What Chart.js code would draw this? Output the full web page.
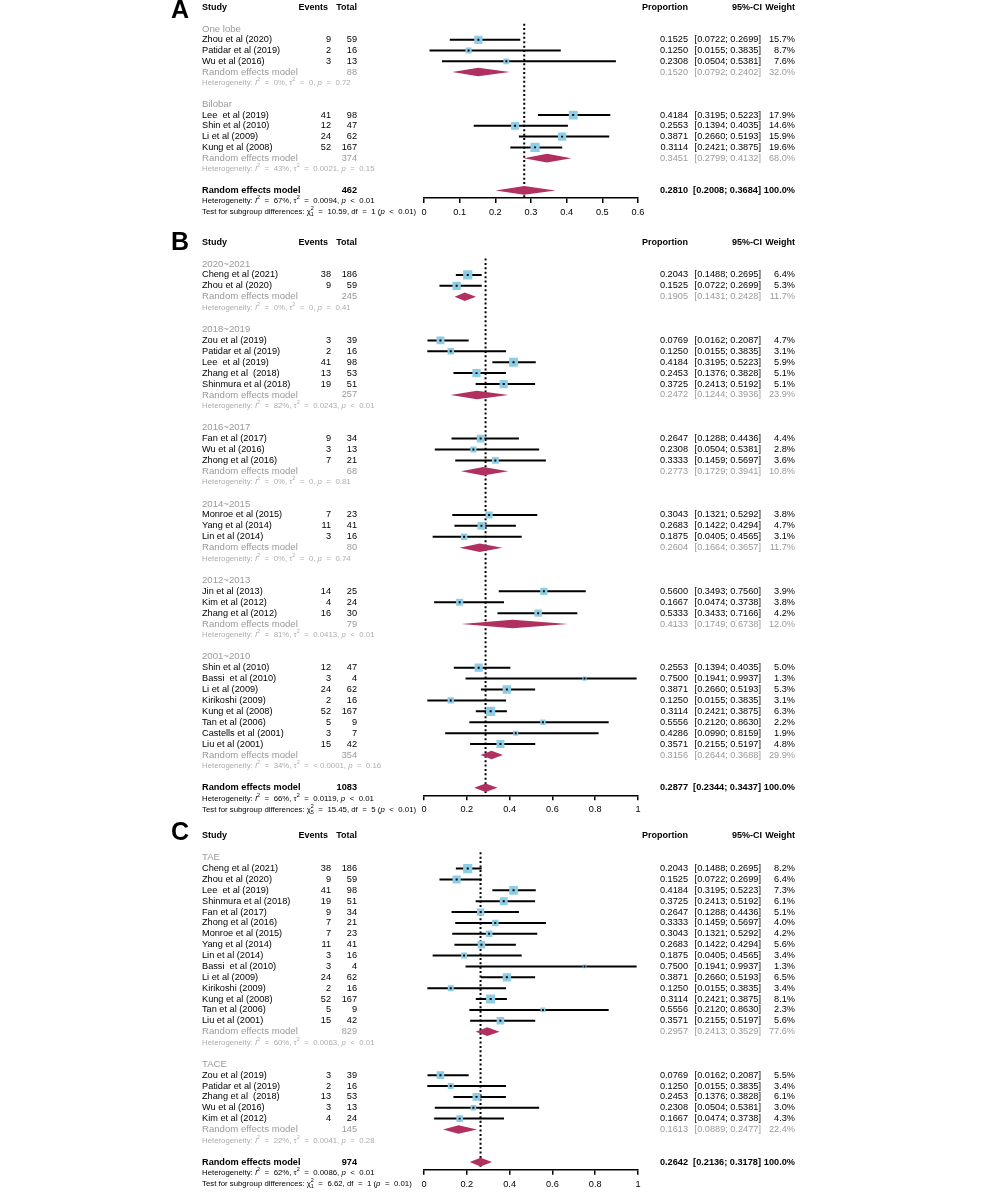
<!DOCTYPE html>
<html>
<head>
<meta charset="utf-8">
<script src="https://cdn.jsdelivr.net/npm/chart.js@4.4.0/dist/chart.umd.min.js"></script>
<style>
  html, body { margin: 0; padding: 0; background: #fff; }
  #wrap { position: relative; width: 1000px; height: 1195px; overflow: hidden; }
  canvas { position: absolute; left: 0; }
</style>
</head>
<body>
<div id="wrap">
  <canvas id="chartA"></canvas>
  <canvas id="chartB"></canvas>
  <canvas id="chartC"></canvas>
</div>
<script>
// ---- Panel A: one lobe vs bilobar ----
const aGroups = ['One lobe', 'Bilobar'];
const aGroupSize = [3, 4];
const aStudies = ['Zhou et al (2020)', 'Patidar et al (2019)', 'Wu et al (2016)',
  'Lee  et al (2019)', 'Shin et al (2010)', 'Li et al (2009)', 'Kung et al (2008)'];
const aEvents = [9, 2, 3, 41, 12, 24, 52];
const aTotals = [59, 16, 13, 98, 47, 62, 167];
const aProp = [0.1525, 0.1250, 0.2308, 0.4184, 0.2553, 0.3871, 0.3114];
const aLower = [0.0722, 0.0155, 0.0504, 0.3195, 0.1394, 0.2660, 0.2421];
const aUpper = [0.2699, 0.3835, 0.5381, 0.5223, 0.4035, 0.5193, 0.3875];
const aWeight = [15.7, 8.7, 7.6, 17.9, 14.6, 15.9, 19.6];
const aSubTotal = [88, 374];
const aSubProp = [0.1520, 0.3451];
const aSubLower = [0.0792, 0.2799];
const aSubUpper = [0.2402, 0.4132];
const aSubWeight = [32.0, 68.0];
const aSubI2 = [0, 43];
const aSubTau2 = ['0', '0.0021'];
const aSubP = ['= 0.72', '= 0.15'];
const aOverall = [0.2810, 0.2008, 0.3684];
const aOverallN = 462;
const aOverallHet = [67, '0.0094', '< 0.01'];
const aTest = ['10.59', 1, '< 0.01'];

// ---- Panel B: publication period ----
const bGroups = ['2020~2021', '2018~2019', '2016~2017', '2014~2015', '2012~2013', '2001~2010'];
const bGroupSize = [2, 5, 3, 3, 3, 8];
const bStudies = ['Cheng et al (2021)', 'Zhou et al (2020)',
  'Zou et al (2019)', 'Patidar et al (2019)', 'Lee  et al (2019)', 'Zhang et al  (2018)', 'Shinmura et al (2018)',
  'Fan et al (2017)', 'Wu et al (2016)', 'Zhong et al (2016)',
  'Monroe et al (2015)', 'Yang et al (2014)', 'Lin et al (2014)',
  'Jin et al (2013)', 'Kim et al (2012)', 'Zhang et al (2012)',
  'Shin et al (2010)', 'Bassi  et al (2010)', 'Li et al (2009)', 'Kirikoshi (2009)', 'Kung et al (2008)',
  'Tan et al (2006)', 'Castells et al (2001)', 'Liu et al (2001)'];
const bEvents = [38, 9, 3, 2, 41, 13, 19, 9, 3, 7, 7, 11, 3, 14, 4, 16, 12, 3, 24, 2, 52, 5, 3, 15];
const bTotals = [186, 59, 39, 16, 98, 53, 51, 34, 13, 21, 23, 41, 16, 25, 24, 30, 47, 4, 62, 16, 167, 9, 7, 42];
const bProp = [0.2043, 0.1525, 0.0769, 0.1250, 0.4184, 0.2453, 0.3725, 0.2647, 0.2308, 0.3333,
  0.3043, 0.2683, 0.1875, 0.5600, 0.1667, 0.5333, 0.2553, 0.7500, 0.3871, 0.1250, 0.3114, 0.5556, 0.4286, 0.3571];
const bLower = [0.1488, 0.0722, 0.0162, 0.0155, 0.3195, 0.1376, 0.2413, 0.1288, 0.0504, 0.1459,
  0.1321, 0.1422, 0.0405, 0.3493, 0.0474, 0.3433, 0.1394, 0.1941, 0.2660, 0.0155, 0.2421, 0.2120, 0.0990, 0.2155];
const bUpper = [0.2695, 0.2699, 0.2087, 0.3835, 0.5223, 0.3828, 0.5192, 0.4436, 0.5381, 0.5697,
  0.5292, 0.4294, 0.4565, 0.7560, 0.3738, 0.7166, 0.4035, 0.9937, 0.5193, 0.3835, 0.3875, 0.8630, 0.8159, 0.5197];
const bWeight = [6.4, 5.3, 4.7, 3.1, 5.9, 5.1, 5.1, 4.4, 2.8, 3.6, 3.8, 4.7, 3.1, 3.9, 3.8, 4.2,
  5.0, 1.3, 5.3, 3.1, 6.3, 2.2, 1.9, 4.8];
const bSubTotal = [245, 257, 68, 80, 79, 354];
const bSubProp = [0.1905, 0.2472, 0.2773, 0.2604, 0.4133, 0.3156];
const bSubLower = [0.1431, 0.1244, 0.1729, 0.1664, 0.1749, 0.2644];
const bSubUpper = [0.2428, 0.3936, 0.3941, 0.3657, 0.6738, 0.3688];
const bSubWeight = [11.7, 23.9, 10.8, 11.7, 12.0, 29.9];
const bSubI2 = [0, 82, 0, 0, 81, 34];
const bSubTau2 = ['0', '0.0243', '0', '0', '0.0413', '< 0.0001'];
const bSubP = ['= 0.41', '< 0.01', '= 0.81', '= 0.74', '< 0.01', '= 0.16'];
const bOverall = [0.2877, 0.2344, 0.3437];
const bOverallN = 1083;
const bOverallHet = [66, '0.0119', '< 0.01'];
const bTest = ['15.45', 5, '< 0.01'];

// ---- Panel C: TAE vs TACE ----
const cGroups = ['TAE', 'TACE'];
const cGroupSize = [15, 5];
const cStudies = ['Cheng et al (2021)', 'Zhou et al (2020)', 'Lee  et al (2019)', 'Shinmura et al (2018)',
  'Fan et al (2017)', 'Zhong et al (2016)', 'Monroe et al (2015)', 'Yang et al (2014)', 'Lin et al (2014)',
  'Bassi  et al (2010)', 'Li et al (2009)', 'Kirikoshi (2009)', 'Kung et al (2008)', 'Tan et al (2006)',
  'Liu et al (2001)',
  'Zou et al (2019)', 'Patidar et al (2019)', 'Zhang et al  (2018)', 'Wu et al (2016)', 'Kim et al (2012)'];
const cEvents = [38, 9, 41, 19, 9, 7, 7, 11, 3, 3, 24, 2, 52, 5, 15, 3, 2, 13, 3, 4];
const cTotals = [186, 59, 98, 51, 34, 21, 23, 41, 16, 4, 62, 16, 167, 9, 42, 39, 16, 53, 13, 24];
const cProp = [0.2043, 0.1525, 0.4184, 0.3725, 0.2647, 0.3333, 0.3043, 0.2683, 0.1875, 0.7500,
  0.3871, 0.1250, 0.3114, 0.5556, 0.3571, 0.0769, 0.1250, 0.2453, 0.2308, 0.1667];
const cLower = [0.1488, 0.0722, 0.3195, 0.2413, 0.1288, 0.1459, 0.1321, 0.1422, 0.0405, 0.1941,
  0.2660, 0.0155, 0.2421, 0.2120, 0.2155, 0.0162, 0.0155, 0.1376, 0.0504, 0.0474];
const cUpper = [0.2695, 0.2699, 0.5223, 0.5192, 0.4436, 0.5697, 0.5292, 0.4294, 0.4565, 0.9937,
  0.5193, 0.3835, 0.3875, 0.8630, 0.5197, 0.2087, 0.3835, 0.3828, 0.5381, 0.3738];
const cWeight = [8.2, 6.4, 7.3, 6.1, 5.1, 4.0, 4.2, 5.6, 3.4, 1.3, 6.5, 3.4, 8.1, 2.3, 5.6,
  5.5, 3.4, 6.1, 3.0, 4.3];
const cSubTotal = [829, 145];
const cSubProp = [0.2957, 0.1613];
const cSubLower = [0.2413, 0.0889];
const cSubUpper = [0.3529, 0.2477];
const cSubWeight = [77.6, 22.4];
const cSubI2 = [60, 22];
const cSubTau2 = ['0.0063', '0.0041'];
const cSubP = ['< 0.01', '= 0.28'];
const cOverall = [0.2642, 0.2136, 0.3178];
const cOverallN = 974;
const cOverallHet = [62, '0.0086', '< 0.01'];
const cTest = ['6.62', 1, '= 0.01'];

const FONT = '"Liberation Sans", Arial, Helvetica, sans-serif';
const GREY = '#9a9a9a';
const GREY_LIGHT = '#adadad';
const SQUARE = '#8ecde6';
const DIAMOND = '#b03060';
const AXIS_H = 30;
const SMALL = 7.8;

// writes text made of pieces (italic, superscript, subscript, gaps)
function drawRich(ctx, x, y, parts, size, color) {
  ctx.fillStyle = color;
  ctx.textAlign = 'left';
  ctx.textBaseline = 'middle';
  let cx = x, keepW = 0;
  parts.forEach(p => {
    if (p.gap) { cx += p.gap; return; }
    let fs = size, dy = 0;
    if (p.sup) { fs = size * 0.7; dy = -size * 0.42; }
    if (p.sub) { fs = size * 0.7; dy = size * 0.38; }
    ctx.font = (p.it ? 'italic ' : '') + fs + 'px ' + FONT;
    ctx.fillText(p.t, cx, y + dy);
    const w = ctx.measureText(p.t).width;
    if (p.keep) { keepW = w; return; }
    cx += Math.max(w, keepW);
    keepW = 0;
  });
}

function rel(sym) { return [{ gap: 4.5 }, { t: sym }, { gap: 4.5 }]; }

function hetParts(i2, tau2, p) {
  const pr = p.split(' ');
  return [{ t: 'Heterogeneity: ' }, { t: 'I', it: true }, { t: '2', sup: true }, ...rel('='), { t: i2 + '%, ' },
    { t: '\u03c4' }, { t: '2', sup: true }, ...rel('='), { t: tau2 + ', ' },
    { t: 'p', it: true }, ...rel(pr[0]), { t: pr[1] }];
}

function testParts(chi, df, p) {
  const pr = p.split(' ');
  return [{ t: 'Test for subgroup differences: ' }, { t: '\u03c7' }, { t: '2', sup: true, keep: true },
    { t: String(df), sub: true }, ...rel('='), { t: chi + ', df' }, ...rel('='), { t: df + ' (' },
    { t: 'p', it: true }, ...rel(pr[0]), { t: pr[1] + ')' }];
}

function buildPanel(id, P, L) {
  // row numbers: 0 = header, then groups (label, studies, model, heterogeneity, blank)
  const rows = { label: [], study: [], sub: [], het: [] };
  let r = 2;
  P.groupSize.forEach(n => {
    rows.label.push(r++);
    for (let k = 0; k < n; k++) rows.study.push(r++);
    rows.sub.push(r++);
    rows.het.push(r);
    r += 2;
  });
  rows.total = r;
  const axisRow = r + 0.7;

  const padTop = L.row0 - L.top;
  const inner = padTop + axisRow * L.rowH + AXIS_H;
  const h = Math.ceil(inner);
  const cv = document.getElementById(id);
  cv.width = 1000;
  cv.height = h;
  cv.style.top = L.top + 'px';

  const wMax = Math.max(...P.weight);
  const ciData = [];
  P.prop.forEach((v, i) => {
    ciData.push({ x: P.lower[i], y: rows.study[i] }, { x: P.upper[i], y: rows.study[i] }, { x: P.upper[i], y: null });
  });
  const pts = P.prop.map((v, i) => ({ x: v, y: rows.study[i] }));
  const radii = P.weight.map(w => 9.2 * Math.sqrt(w / wMax) / Math.SQRT2);

  const table = {
    id: 'forestTable',
    afterDatasetsDraw(chart) {
      const { ctx, scales: { x, y } } = chart;
      const diamond = (est, lo, hi, row) => {
        const cy = y.getPixelForValue(row);
        ctx.beginPath();
        ctx.moveTo(x.getPixelForValue(lo), cy);
        ctx.lineTo(x.getPixelForValue(est), cy - 4.3);
        ctx.lineTo(x.getPixelForValue(hi), cy);
        ctx.lineTo(x.getPixelForValue(est), cy + 4.3);
        ctx.closePath();
        ctx.fill();
      };
      ctx.save();
      ctx.fillStyle = DIAMOND;
      P.subProp.forEach((v, i) => diamond(v, P.subLower[i], P.subUpper[i], rows.sub[i]));
      diamond(P.overall[0], P.overall[1], P.overall[2], rows.total);
      ctx.restore();
    },
    afterDraw(chart) {
      const { ctx, scales: { y } } = chart;
      const py = row => y.getPixelForValue(row);
      const put = (s, px, row, align, font, color) => {
        ctx.font = font;
        ctx.fillStyle = color;
        ctx.textAlign = align;
        ctx.textBaseline = 'middle';
        ctx.fillText(s, px, py(row));
      };
      const reg = '9.2px ' + FONT, bold = 'bold 9.2px ' + FONT;
      const greyFont = '9.6px ' + FONT, head = 'bold 9px ' + FONT;
      const ci = (lo, hi) => '[' + lo.toFixed(4) + '; ' + hi.toFixed(4) + ']';
      ctx.save();
      // panel letter
      ctx.font = 'bold 25px ' + FONT;
      ctx.fillStyle = '#000';
      ctx.textAlign = 'left';
      ctx.textBaseline = 'alphabetic';
      ctx.fillText(L.letter, 171, L.letterBase - L.top);
      // header
      put('Study', 202, 0, 'left', head, '#000');
      put('Events', 328, 0, 'right', head, '#000');
      put('Total', 357, 0, 'right', head, '#000');
      put('Proportion', 688, 0, 'right', head, '#000');
      put('95%-CI', 762, 0, 'right', head, '#000');
      put('Weight', 795, 0, 'right', head, '#000');
      // groups
      P.groups.forEach((g, gi) => {
        put(g, 202, rows.label[gi], 'left', greyFont, GREY);
        const rr = rows.sub[gi];
        put('Random effects model', 202, rr, 'left', greyFont, GREY);
        put(String(P.subTotal[gi]), 357, rr, 'right', reg, GREY);
        put(P.subProp[gi].toFixed(4), 688, rr, 'right', reg, GREY);
        put(ci(P.subLower[gi], P.subUpper[gi]), 761, rr, 'right', reg, GREY);
        put(P.subWeight[gi].toFixed(1) + '%', 795, rr, 'right', reg, GREY);
        drawRich(ctx, 202, py(rows.het[gi]), hetParts(P.subI2[gi], P.subTau2[gi], P.subP[gi]), SMALL, GREY_LIGHT);
      });
      // studies
      P.studies.forEach((s, i) => {
        const rr = rows.study[i];
        put(s, 202, rr, 'left', reg, '#000');
        put(String(P.events[i]), 331, rr, 'right', reg, '#000');
        put(String(P.totals[i]), 357, rr, 'right', reg, '#000');
        put(P.prop[i].toFixed(4), 688, rr, 'right', reg, '#000');
        put(ci(P.lower[i], P.upper[i]), 761, rr, 'right', reg, '#000');
        put(P.weight[i].toFixed(1) + '%', 795, rr, 'right', reg, '#000');
      });
      // overall
      const tr = rows.total;
      put('Random effects model', 202, tr, 'left', bold, '#000');
      put(String(P.overallN), 357, tr, 'right', bold, '#000');
      put(P.overall[0].toFixed(4), 688, tr, 'right', bold, '#000');
      put(ci(P.overall[1], P.overall[2]), 761, tr, 'right', bold, '#000');
      put('100.0%', 795, tr, 'right', bold, '#000');
      drawRich(ctx, 202, py(tr + 1), hetParts(P.overallHet[0], P.overallHet[1], P.overallHet[2]), SMALL, '#000');
      drawRich(ctx, 202, py(tr + 2), testParts(P.test[0], P.test[1], P.test[2]), SMALL, '#000');
      ctx.restore();
    }
  };

  return new Chart(cv, {
    type: 'scatter',
    data: {
      datasets: [
        { data: pts, pointStyle: 'rect', pointRadius: 1.4, pointBackgroundColor: '#000', pointBorderWidth: 0, order: 0 },
        { data: pts, pointStyle: 'rect', pointRadius: radii, pointBackgroundColor: SQUARE, pointBorderWidth: 0, order: 1 },
        { data: ciData, showLine: true, spanGaps: false, borderColor: '#000', borderWidth: 2, pointRadius: 0, order: 2 },
        { data: [{ x: P.overall[0], y: 1.5 }, { x: P.overall[0], y: axisRow }], showLine: true,
          borderColor: '#000', borderWidth: 2, borderDash: [2, 2.4], pointRadius: 0, order: 3 }
      ]
    },
    options: {
      responsive: false,
      animation: false,
      events: [],
      layout: { padding: { left: 424, right: 362, top: padTop, bottom: h - inner } },
      plugins: { legend: { display: false }, tooltip: { enabled: false } },
      scales: {
        x: {
          type: 'linear', position: 'bottom', min: 0, max: L.xMax,
          afterFit: s => { s.height = AXIS_H; },
          ticks: {
            stepSize: L.step, color: '#000', font: { family: FONT, size: 9.2 }, padding: 4,
            maxRotation: 0, autoSkip: false, callback: v => String(Math.round(v * 10) / 10)
          },
          grid: { drawOnChartArea: false, drawTicks: true, tickLength: 5, color: '#000', lineWidth: 1.5 },
          border: { display: true, color: '#000', width: 1.5 }
        },
        y: { type: 'linear', display: false, min: 0, max: axisRow, reverse: true }
      }
    },
    plugins: [table]
  });
}

buildPanel('chartA', {
  groups: aGroups, groupSize: aGroupSize, studies: aStudies, events: aEvents, totals: aTotals,
  prop: aProp, lower: aLower, upper: aUpper, weight: aWeight,
  subTotal: aSubTotal, subProp: aSubProp, subLower: aSubLower, subUpper: aSubUpper, subWeight: aSubWeight,
  subI2: aSubI2, subTau2: aSubTau2, subP: aSubP,
  overall: aOverall, overallN: aOverallN, overallHet: aOverallHet, test: aTest
}, { top: 0, row0: 7.5, rowH: 10.76, xMax: 0.6, step: 0.1, letter: 'A', letterBase: 18 });

buildPanel('chartB', {
  groups: bGroups, groupSize: bGroupSize, studies: bStudies, events: bEvents, totals: bTotals,
  prop: bProp, lower: bLower, upper: bUpper, weight: bWeight,
  subTotal: bSubTotal, subProp: bSubProp, subLower: bSubLower, subUpper: bSubUpper, subWeight: bSubWeight,
  subI2: bSubI2, subTau2: bSubTau2, subP: bSubP,
  overall: bOverall, overallN: bOverallN, overallHet: bOverallHet, test: bTest
}, { top: 228, row0: 242.2, rowH: 10.91, xMax: 1, step: 0.2, letter: 'B', letterBase: 250 });

buildPanel('chartC', {
  groups: cGroups, groupSize: cGroupSize, studies: cStudies, events: cEvents, totals: cTotals,
  prop: cProp, lower: cLower, upper: cUpper, weight: cWeight,
  subTotal: cSubTotal, subProp: cSubProp, subLower: cSubLower, subUpper: cSubUpper, subWeight: cSubWeight,
  subI2: cSubI2, subTau2: cSubTau2, subP: cSubP,
  overall: cOverall, overallN: cOverallN, overallHet: cOverallHet, test: cTest
}, { top: 818, row0: 836, rowH: 10.87, xMax: 1, step: 0.2, letter: 'C', letterBase: 840 });
</script>
</body>
</html>
